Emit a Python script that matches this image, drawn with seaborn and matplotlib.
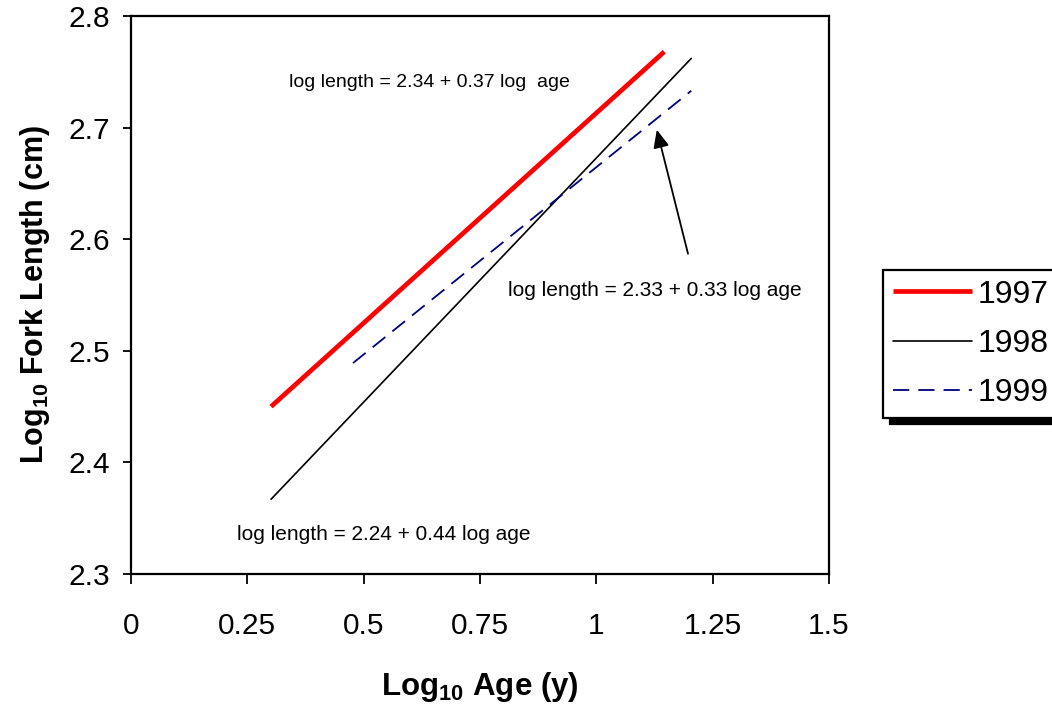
import matplotlib
matplotlib.use("Agg")
import matplotlib.pyplot as plt
import seaborn as sns
import pandas as pd

# Data (endpoints of fitted regression lines, log10 scale)
years = ["1997", "1998", "1999"]
x_1997 = [0.301, 1.146]
y_1997 = [2.450, 2.768]
x_1998 = [0.301, 1.204]
y_1998 = [2.367, 2.762]
x_1999 = [0.477, 1.204]
y_1999 = [2.489, 2.733]

eq_1997 = "log length = 2.34 + 0.37 log  age"
eq_1998 = "log length = 2.24 + 0.44 log age"
eq_1999 = "log length = 2.33 + 0.33 log age"

x_ticks = [0, 0.25, 0.5, 0.75, 1, 1.25, 1.5]
x_ticklabels = ["0", "0.25", "0.5", "0.75", "1", "1.25", "1.5"]
y_ticks = [2.3, 2.4, 2.5, 2.6, 2.7, 2.8]
y_ticklabels = ["2.3", "2.4", "2.5", "2.6", "2.7", "2.8"]

sns.set_theme(style="white")
plt.rcParams["font.family"] = ["Liberation Sans", "DejaVu Sans"]
plt.rcParams["text.color"] = "black"
plt.rcParams["axes.labelcolor"] = "black"
plt.rcParams["xtick.color"] = "black"
plt.rcParams["ytick.color"] = "black"
plt.rcParams["mathtext.fontset"] = "custom"
plt.rcParams["mathtext.rm"] = "Liberation Sans"
plt.rcParams["mathtext.bf"] = "Liberation Sans:bold"

fig = plt.figure(figsize=(10.52, 7.08), dpi=100)
ax = fig.add_axes([131 / 1052, 1 - 574 / 708, 698 / 1052, 558 / 708])

df97 = pd.DataFrame({"x": x_1997, "y": y_1997})
df98 = pd.DataFrame({"x": x_1998, "y": y_1998})
df99 = pd.DataFrame({"x": x_1999, "y": y_1999})

sns.lineplot(data=df97, x="x", y="y", ax=ax, color="#ff0000", linewidth=3.4,
             label=years[0], solid_capstyle="butt")
sns.lineplot(data=df98, x="x", y="y", ax=ax, color="black", linewidth=1.2,
             label=years[1])
sns.lineplot(data=df99, x="x", y="y", ax=ax, color="#000080", linewidth=1.3,
             label=years[2], linestyle=(0, (9, 5)))

ax.set_xlim(0, 1.5)
ax.set_ylim(2.3, 2.8)
ax.set_xticks(x_ticks)
ax.set_xticklabels(x_ticklabels)
ax.set_yticks(y_ticks)
ax.set_yticklabels(y_ticklabels)

for s in ax.spines.values():
    s.set_visible(True)
    s.set_color("black")
    s.set_linewidth(1.6)

ax.tick_params(axis="x", direction="out", length=7, width=1.3, color="black",
               labelsize=21.5, labelcolor="black", pad=20, bottom=True)
ax.tick_params(axis="y", direction="out", length=6, width=1.3, color="black",
               labelsize=21.5, labelcolor="black", pad=9, left=True)

ax.set_xlabel(r"Log$_{\mathbf{10}}$ Age (y)", fontsize=22.5, fontweight="bold", labelpad=22)
ax.set_ylabel(r"Log$_{\mathbf{10}}$ Fork Length (cm)", fontsize=22, fontweight="bold", labelpad=12)

ax.text(0.3395, 2.74, eq_1997, fontsize=14, va="center", ha="left")
ax.text(0.81, 2.554, eq_1999, fontsize=15, va="center", ha="left", clip_on=False)
ax.text(0.228, 2.335, eq_1998, fontsize=15, va="center", ha="left")

ax.annotate("", xy=(1.130, 2.698), xytext=(1.197, 2.587),
            arrowprops=dict(arrowstyle="-|>,head_length=0.9,head_width=0.4",
                            color="black", lw=1.3, shrinkA=0, shrinkB=0))

ax.get_legend().remove()
handles, labels = ax.get_legend_handles_labels()
leg = fig.legend(handles, labels, loc="upper left",
                 bbox_to_anchor=(883 / 1052, 1 - 270 / 708),
                 fontsize=23, frameon=True, fancybox=False,
                 shadow={"color": "black", "alpha": 1.0, "ox": 5, "oy": -5},
                 handlelength=2.5, handletextpad=0.15, labelspacing=0.6,
                 borderpad=0.3, borderaxespad=0)
leg.get_frame().set_edgecolor("black")
leg.get_frame().set_linewidth(1.6)
for t in leg.get_texts():
    t.set_color("black")

fig.savefig("out.png", dpi=100)
